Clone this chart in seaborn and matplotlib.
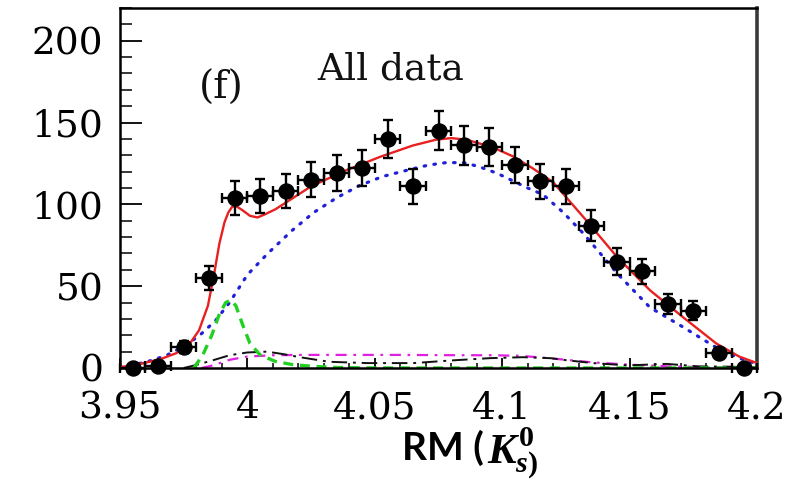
import matplotlib
matplotlib.use("Agg")
import matplotlib.pyplot as plt
from matplotlib.ticker import MultipleLocator, FixedLocator, FuncFormatter
import seaborn as sns

# ---- measured yield per bin (events / 0.01) ----
bin_centers = [3.955, 3.965, 3.975, 3.985, 3.995, 4.005, 4.015, 4.025, 4.035, 4.045,
               4.055, 4.065, 4.075, 4.085, 4.095, 4.105, 4.115, 4.125, 4.135, 4.145,
               4.155, 4.165, 4.175, 4.185, 4.195]
counts = [0, 1, 13, 55, 104, 105, 108, 115, 119, 122,
          140, 111, 145, 136, 135, 124, 114, 111, 87, 65,
          59, 39, 35, 9, 0]
count_err = [0, 1, 3.6, 7.4, 10.2, 10.2, 10.4, 10.7, 10.9, 11.0,
             11.8, 10.5, 12.0, 11.7, 11.6, 11.1, 10.7, 10.5, 9.3, 8.1,
             7.7, 6.2, 5.9, 3.0, 0]
half_bin = [0.005] * len(bin_centers)

# ---- fit components ----
total_x = [3.950, 3.958, 3.966, 3.972, 3.977, 3.981, 3.9845, 3.987, 3.989, 3.991,
           3.9925, 3.994, 3.9955, 3.998, 4.001, 4.004, 4.007, 4.011, 4.016, 4.025,
           4.039, 4.052, 4.065, 4.074, 4.080, 4.086, 4.096, 4.104, 4.112, 4.120,
           4.132, 4.145, 4.158, 4.171, 4.184, 4.193, 4.200]
total_y = [0.5, 2.5, 5.5, 9, 14, 23, 38, 58, 76, 89,
           95, 98.5, 99, 96.5, 93, 92, 94, 97, 102, 111,
           121, 129, 136, 139.5, 140.5, 139.5, 135, 129.5, 122, 113.5,
           92, 68, 47.5, 31, 15, 7, 3]

bkg_x = [3.950, 3.960, 3.968, 3.976, 3.982, 3.9875, 3.993, 4.000, 4.008, 4.0175,
         4.026, 4.035, 4.044, 4.053, 4.063, 4.071, 4.078, 4.085, 4.091, 4.098,
         4.104, 4.110, 4.116, 4.124, 4.132, 4.145, 4.158, 4.171, 4.184, 4.193, 4.200]
bkg_y = [0.5, 3.5, 7.5, 14, 21, 29, 40, 57, 70, 84,
         95, 104, 111.5, 117, 121, 124, 125.5, 125.5, 123, 119,
         114.5, 110, 106, 95, 82, 58, 37, 25, 12.5, 6, 2.5]

peak_x = [3.979, 3.9825, 3.986, 3.989, 3.9915, 3.9935, 3.9955, 3.998, 4.001, 4.005,
          4.011, 4.018, 4.026, 4.035, 4.05, 4.1, 4.15, 4.2]
peak_y = [0, 8, 20, 33, 40, 41.5, 38, 27, 15, 8,
          4, 2, 1, 0.3, 0, 0, 0, 0]

comp1_x = [3.975, 3.979, 3.986, 3.993, 4.000, 4.0077, 4.014, 4.0206, 4.032, 4.047,
           4.065, 4.081, 4.095, 4.108, 4.119, 4.1255, 4.1357, 4.149, 4.1647, 4.177,
           4.19, 4.2]
comp1_y = [0, 1.5, 4.5, 7.8, 9.5, 10, 8.5, 6.6, 3.8, 3,
           3, 4.7, 6, 6.6, 6, 4.7, 3, 1.6, 2.5, 1,
           0.8, 0.3]

comp2_x = [3.982, 3.9865, 3.993, 4.000, 4.010, 4.0206, 4.04, 4.06, 4.083, 4.0958,
           4.1058, 4.115, 4.125, 4.135, 4.15, 4.165, 4.18, 4.2]
comp2_y = [0, 1.6, 5, 7, 7.8, 8, 8, 8, 7.8, 7.8,
           7.5, 6.5, 5, 3.5, 2, 1, 0.5, 0]

x_ticks = [3.95, 4.0, 4.05, 4.1, 4.15, 4.2]
y_ticks = [0, 50, 100, 150, 200]

sns.set_style("ticks")
plt.rcParams["font.family"] = ["DejaVu Serif"]
plt.rcParams["mathtext.fontset"] = "custom"
plt.rcParams["mathtext.it"] = "Liberation Serif:italic:bold"
plt.rcParams["mathtext.rm"] = "Liberation Serif:bold"
plt.rcParams["mathtext.bf"] = "Liberation Serif:bold"

W, H = 795, 482
fig = plt.figure(figsize=(W / 100, H / 100), dpi=100)
fig.patch.set_facecolor("white")
ax = fig.add_axes([120 / W, 1 - 368 / H, 637 / W, 360 / H])
ax.set_facecolor("white")

# fit curves
sns.lineplot(x=bkg_x, y=bkg_y, ax=ax, color="#2020d8", lw=2.3,
             linestyle=(0, (0.5, 2.6)), dash_capstyle="round", zorder=2)
sns.lineplot(x=comp2_x, y=comp2_y, ax=ax, color="#e020e0", lw=1.6,
             linestyle=(0, (5, 3, 1.2, 3)), zorder=2)
sns.lineplot(x=comp1_x, y=comp1_y, ax=ax, color="#111111", lw=1.4,
             linestyle=(0, (8, 3, 1.5, 3)), zorder=2)
sns.lineplot(x=peak_x, y=peak_y, ax=ax, color="#22d022", lw=2.4,
             linestyle=(0, (3, 2)), zorder=2)
sns.lineplot(x=total_x, y=total_y, ax=ax, color="#e82020", lw=1.7, zorder=3)

# data with errors
ax.errorbar(bin_centers, counts, yerr=count_err, xerr=half_bin, fmt="none",
            ecolor="black", elinewidth=1.7, capsize=3.6, capthick=1.7,
            zorder=4, clip_on=False)
sns.scatterplot(x=bin_centers, y=counts, ax=ax, color="black", s=140,
                linewidth=0, zorder=5, clip_on=False)

ax.set_xlim(3.95, 4.2)
ax.set_ylim(0, 220)
ax.xaxis.set_major_locator(FixedLocator(x_ticks))
ax.xaxis.set_minor_locator(MultipleLocator(0.01))
ax.yaxis.set_major_locator(FixedLocator(y_ticks))
ax.yaxis.set_minor_locator(MultipleLocator(10))
ax.xaxis.set_major_formatter(FuncFormatter(lambda v, p: f"{v:g}"))
ax.yaxis.set_major_formatter(FuncFormatter(lambda v, p: f"{v:g}"))

ax.tick_params(axis="y", which="major", direction="in", length=16, width=1.3,
               pad=12, labelsize=27, colors="black")
ax.tick_params(axis="y", which="minor", direction="in", length=8.5, width=1.3)
ax.tick_params(axis="x", which="major", direction="in", length=7, width=1.3,
               pad=16, labelsize=27, colors="black")
ax.tick_params(axis="x", which="minor", direction="in", length=3.6, width=1.3)
ax.tick_params(top=False, right=False, which="both")

for side in ["left", "top", "bottom"]:
    ax.spines[side].set_visible(True)
    ax.spines[side].set_color("black")
    ax.spines[side].set_linewidth(1.8)
ax.spines["right"].set_visible(True)
ax.spines["right"].set_color("#3a3a3a")
ax.spines["right"].set_linewidth(2.6)

ax.set_xlabel("")
ax.set_ylabel("")

# panel annotations
ax.text(221 / W, 1 - 88 / H, "(f)", transform=fig.transFigure, fontsize=28,
        ha="center", va="center", color="#111111")
ax.text(317 / W, 1 - 80 / H, "All data", transform=fig.transFigure, fontsize=27,
        ha="left", va="baseline", color="#111111")

# axis title
fig.text(484 / W, 1 - 460 / H, "RM (", fontsize=28, fontweight="bold",
         family=["Lato", "DejaVu Sans"], ha="right", va="baseline", color="black")
fig.text(487 / W, 1 - 463 / H, r"$K_{s)}^{0}$", fontsize=31,
         ha="left", va="baseline", color="black")

fig.savefig("out.png", dpi=100, facecolor="white")
